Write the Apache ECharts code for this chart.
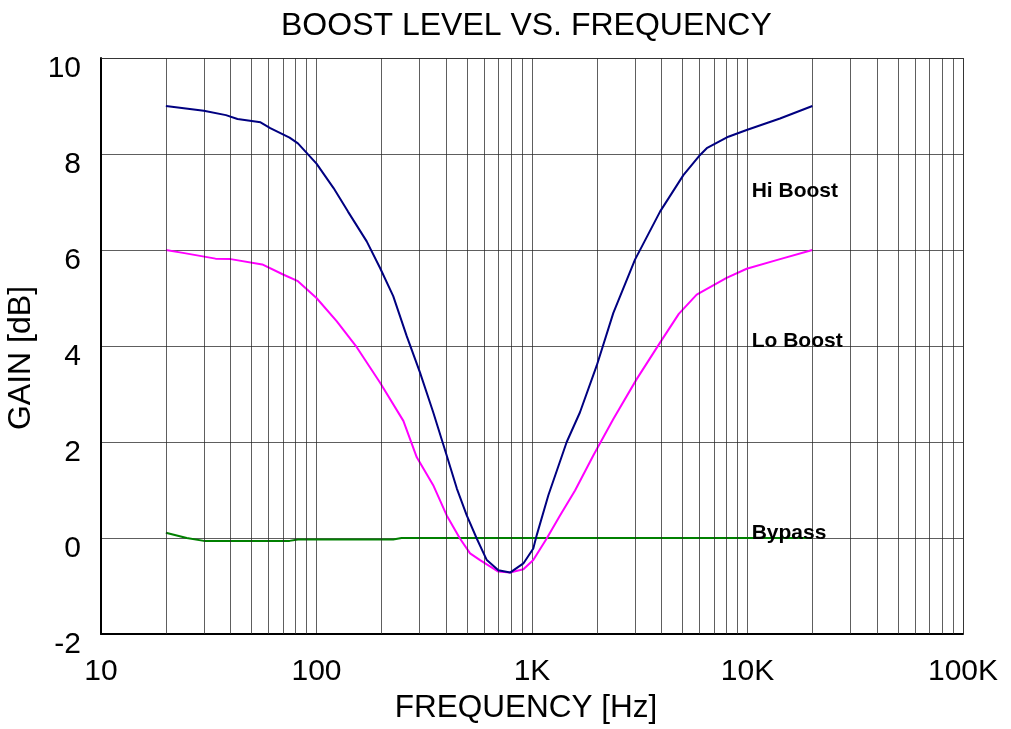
<!DOCTYPE html>
<html>
<head>
<meta charset="utf-8">
<script src="https://cdn.jsdelivr.net/npm/echarts@6/dist/echarts.min.js"></script>
<style>html,body{margin:0;padding:0;background:#fff}#c{width:1011px;height:729px}</style>
</head>
<body>
<div id="c"></div>
<script>
const hiFreq = [20, 30, 38, 43, 55, 61, 75, 82, 100, 120, 140, 171, 197, 227, 262, 302, 348, 402, 448, 498, 554, 617, 698, 791, 912, 1014, 1052, 1191, 1449, 1670, 1996, 2385, 3006, 3928, 5040, 6025, 6470, 8150, 9910, 14150, 20000];
const hiGain = [9.0, 8.9, 8.81, 8.73, 8.66, 8.54, 8.34, 8.22, 7.8, 7.29, 6.8, 6.18, 5.63, 5.04, 4.21, 3.45, 2.62, 1.72, 1.03, 0.47, -0.01, -0.46, -0.67, -0.72, -0.53, -0.22, 0.06, 0.89, 2.0, 2.62, 3.59, 4.69, 5.8, 6.8, 7.56, 7.98, 8.12, 8.36, 8.5, 8.74, 9.0];
const loFreq = [20, 24, 34, 40, 56, 70, 82, 100, 124, 154, 197, 253, 292, 348, 402, 463, 516, 574, 698, 791, 912, 1014, 1170, 1349, 1584, 1925, 2385, 3060, 3928, 4800, 5810, 8000, 9910, 13900, 20000];
const loGain = [6.0, 5.94, 5.82, 5.81, 5.7, 5.49, 5.35, 5.0, 4.52, 3.97, 3.24, 2.44, 1.68, 1.1, 0.47, -0.01, -0.32, -0.46, -0.7, -0.72, -0.65, -0.46, -0.01, 0.47, 0.99, 1.72, 2.48, 3.31, 4.07, 4.67, 5.07, 5.42, 5.61, 5.8, 6.0];
const byFreq = [20, 25, 30, 75, 82, 227, 248, 20000];
const byGain = [0.11, 0.0, -0.06, -0.06, -0.03, -0.03, 0.0, 0.0];
const seriesNames = ['Hi Boost', 'Lo Boost', 'Bypass'];
const labelFreq = 10400;
const labelGain = [7.22, 4.1, 0.09];
const xTickLabels = {10: '10', 100: '100', 1000: '1K', 10000: '10K', 100000: '100K'};
const minorFreqs = [];
[10, 100, 1000, 10000].forEach(d => { for (let k = 2; k <= 9; k++) minorFreqs.push(k * d); });

const zip = (a, b) => a.map((v, i) => [v, b[i]]);
const colors = ['#000080', '#ff00ff', '#008000'];
const gridColor = 'rgba(40,40,40,0.75)';
const font = 'Liberation Sans, Arial, sans-serif';

const chart = echarts.init(document.getElementById('c'));
chart.setOption({
  animation: false,
  backgroundColor: '#fff',
  title: {
    text: 'BOOST LEVEL VS. FREQUENCY', left: 276, top: 5,
    textStyle: {fontFamily: font, fontSize: 32, fontWeight: 'normal', color: '#000'}
  },
  grid: {left: 101, right: 48, top: 58, bottom: 95, outerBoundsMode: 'none', containLabel: false},
  xAxis: {
    type: 'log', logBase: 10, min: 10, max: 100000,
    name: 'FREQUENCY [Hz]', nameLocation: 'middle', nameGap: 55,
    nameTextStyle: {fontFamily: font, fontSize: 31.5, color: '#000', padding: [0, 12, 0, 0]},
    axisLine: {show: true, onZero: false, lineStyle: {color: '#000', width: 2}},
    axisTick: {show: false},
    axisLabel: {fontFamily: font, fontSize: 30, color: '#000', margin: 23,
      formatter: v => xTickLabels[Math.round(v)] || ''},
    splitLine: {show: true, lineStyle: {color: gridColor, width: 1}},
    minorTick: {show: false}, minorSplitLine: {show: false}
  },
  yAxis: {
    type: 'value', min: -2, max: 10, interval: 2,
    name: 'GAIN [dB]', nameLocation: 'middle', nameGap: 59,
    nameTextStyle: {fontFamily: font, fontSize: 32, color: '#000', padding: [0, 24, 0, 0]},
    axisLine: {show: true, onZero: false, lineStyle: {color: '#000', width: 2}},
    axisTick: {show: false},
    axisLabel: {fontFamily: font, fontSize: 30, color: '#000', margin: 20,
      verticalAlign: 'top', lineHeight: 22},
    splitLine: {show: true, lineStyle: {color: gridColor, width: 1}}
  },
  series: [
    {
      name: 'grid', type: 'line', data: [], silent: true,
      markLine: {
        silent: true, symbol: 'none', label: {show: false},
        lineStyle: {color: gridColor, width: 1, type: 'solid'},
        data: minorFreqs.map(f => ({xAxis: f})).concat([{xAxis: 100000}, {yAxis: 10}])
      }
    },
    {
      name: seriesNames[0], type: 'line', data: zip(hiFreq, hiGain), showSymbol: false,
      lineStyle: {color: colors[0], width: 2}, itemStyle: {color: colors[0]}, z: 5
    },
    {
      name: seriesNames[1], type: 'line', data: zip(loFreq, loGain), showSymbol: false,
      lineStyle: {color: colors[1], width: 2}, itemStyle: {color: colors[1]}, z: 4
    },
    {
      name: seriesNames[2], type: 'line', data: zip(byFreq, byGain), showSymbol: false,
      lineStyle: {color: colors[2], width: 2}, itemStyle: {color: colors[2]}, z: 3
    },
    {
      name: 'labels', type: 'scatter', symbolSize: 1, z: 6,
      itemStyle: {color: 'rgba(0,0,0,0)'},
      data: seriesNames.map((n, i) => ({value: [labelFreq, labelGain[i]], name: n})),
      label: {show: true, position: 'right', distance: 0, formatter: p => p.name,
        fontFamily: font, fontSize: 21, fontWeight: 'bold', color: '#000', opacity: 1}
    }
  ]
});
</script>
</body>
</html>
